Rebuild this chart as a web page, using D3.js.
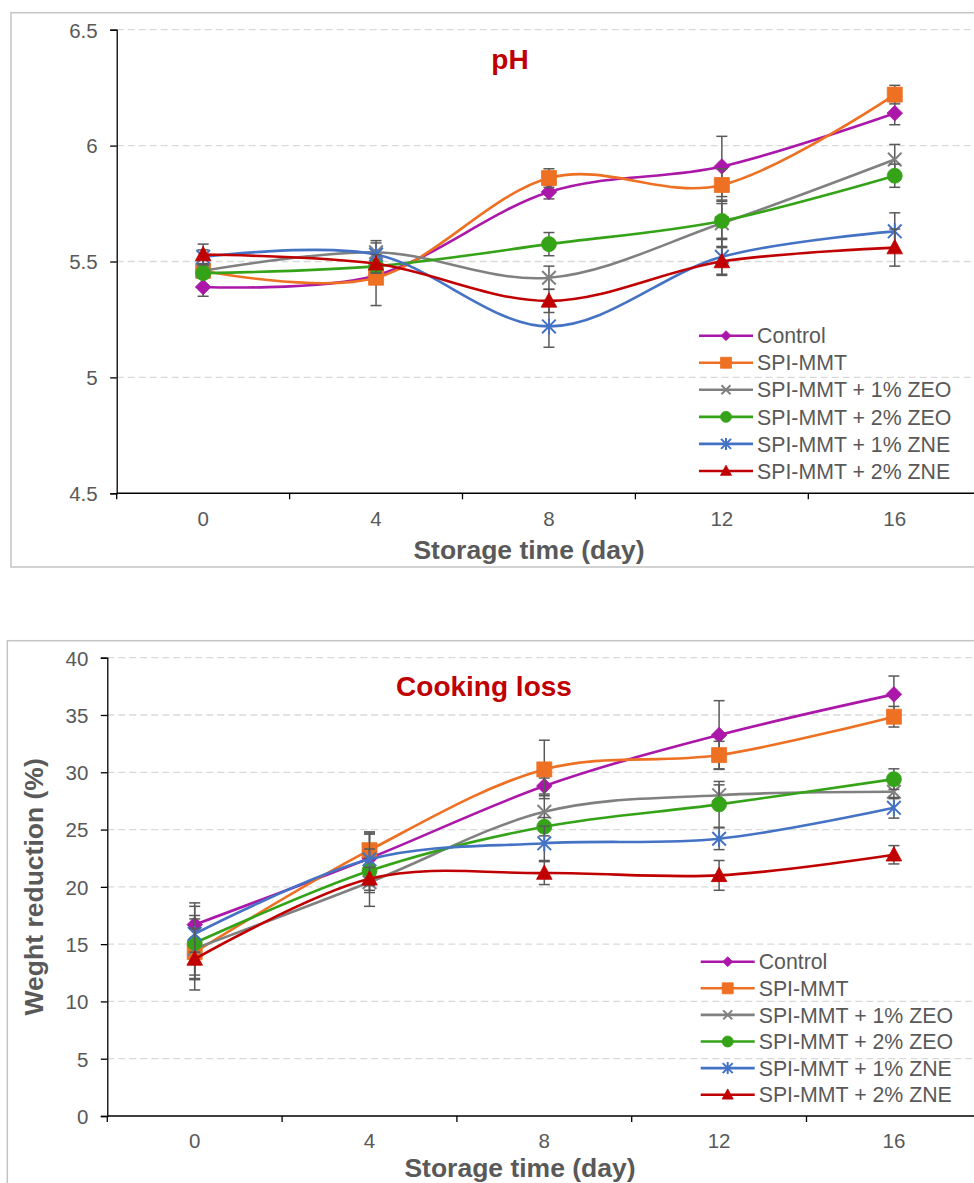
<!DOCTYPE html>
<html>
<head>
<meta charset="utf-8">
<style>
  body { margin: 0; background: #fff; }
  svg { display: block; font-family: "Liberation Sans", Arial, sans-serif; }
  .tick-label { fill: #595959; font-size: 20.5px; }
  .axis-title { fill: #595959; font-size: 26.5px; font-weight: bold; }
  .chart-title { fill: #C00000; font-size: 28px; font-weight: bold; }
  .legend-text { fill: #595959; font-size: 21.3px; }
</style>
</head>
<body>
<svg width="974" height="1183"></svg>
<script src="https://d3js.org/d3.v7.min.js"></script>
<script>
// ---- data ----
const days = ["0", "4", "8", "12", "16"];
const seriesNames = ["Control", "SPI-MMT", "SPI-MMT + 1% ZEO", "SPI-MMT + 2% ZEO", "SPI-MMT + 1% ZNE", "SPI-MMT + 2% ZNE"];

// pH
const phTicks = [4.5, 5, 5.5, 6, 6.5];
const phMeans = [
  [5.39, 5.44, 5.80, 5.91, 6.14],
  [5.46, 5.43, 5.86, 5.83, 6.22],
  [5.46, 5.54, 5.43, 5.665, 5.94],
  [5.45, 5.48, 5.575, 5.675, 5.87],
  [5.52, 5.53, 5.22, 5.52, 5.63],
  [5.53, 5.49, 5.33, 5.50, 5.56]
];
const phErrors = [
  [0.04, 0.03, 0.03, 0.13, 0.05],
  [0.03, 0.12, 0.04, 0.07, 0.04],
  [0.03, 0.05, 0.05, 0.10, 0.065],
  [0.02, 0.03, 0.05, 0.075, 0.05],
  [0.03, 0.05, 0.09, 0.075, 0.08],
  [0.045, 0.04, 0.05, 0.06, 0.08]
];

// cooking loss (weight reduction %)
const lossTicks = [0, 5, 10, 15, 20, 25, 30, 35, 40];
const lossMeans = [
  [16.7, 22.5, 28.8, 33.25, 36.8],
  [14.3, 23.2, 30.25, 31.5, 34.85],
  [14.6, 20.4, 26.55, 28.0, 28.3],
  [15.1, 21.4, 25.25, 27.2, 29.4],
  [15.9, 22.4, 23.8, 24.2, 26.9],
  [13.7, 20.7, 21.2, 21.0, 22.8]
];
const lossErrors = [
  [1.9, 2.1, 0.7, 3.0, 1.6],
  [2.0, 1.6, 2.55, 1.2, 0.9],
  [2.6, 2.1, 1.4, 0.9, 0.6],
  [3.2, 1.9, 0.8, 2.0, 0.9],
  [1.6, 2.3, 1.5, 0.95, 0.9],
  [2.7, 1.0, 1.0, 1.3, 0.8]
];

// ---- styles ----
const colors = ["#AB17A8", "#EE7022", "#808080", "#35A318", "#4472C4", "#C00000"];
const markers = ["diamond", "square", "x", "circle", "star", "triangle"];

let svg = d3.select("svg");

function markerPath(type, s) {
  if (type == "diamond") return `M0,${-s}L${s},0L0,${s}L${-s},0Z`;
  if (type == "square") return `M${-s},${-s}H${s}V${s}H${-s}Z`;
  if (type == "circle") return d3.symbol(d3.symbolCircle, Math.PI * s * s)();
  if (type == "triangle") return `M0,${-s * 1.05}L${s},${s * 0.8}L${-s},${s * 0.8}Z`;
  if (type == "x") return `M${-s},${-s}L${s},${s}M${-s},${s}L${s},${-s}`;
  // star = x with a vertical stroke
  return `M${-s},${-s}L${s},${s}M${-s},${s}L${s},${-s}M0,${-s * 1.2}V${s * 1.2}`;
}
const markerSize = { diamond: 7.8, square: 7.5, circle: 7.5, triangle: 7.8, x: 6.8, star: 6.8 };
const legendSize = { diamond: 5, square: 5.5, circle: 5.5, triangle: 5.5, x: 4.5, star: 5 };

function drawMarker(g, type, color, s) {
  let stroked = (type == "x" || type == "star");
  g.append("path")
    .attr("d", markerPath(type, s))
    .attr("fill", stroked ? "none" : color)
    .attr("stroke", color)
    .attr("stroke-width", stroked ? 2 : 0.8);
}

function drawChart(cfg) {
  let g = svg.append("g");

  // outer frame
  g.append("rect")
    .attr("x", cfg.frame[0]).attr("y", cfg.frame[1])
    .attr("width", 1000).attr("height", cfg.frame[2])
    .attr("fill", "none").attr("stroke", "#C4C4C4").attr("stroke-width", 1.5);

  let x = d3.scaleBand().domain(days).range([cfg.left, cfg.right]);
  let y = d3.scaleLinear().domain(cfg.domain).range([cfg.bottom, cfg.top]);

  // gridlines
  g.append("g").selectAll("line")
    .data(cfg.ticks.filter(t => t != cfg.domain[0]))
    .join("line")
    .attr("x1", cfg.left).attr("x2", cfg.right)
    .attr("y1", d => y(d)).attr("y2", d => y(d))
    .attr("stroke", "#D9D9D9").attr("stroke-width", 1.3)
    .attr("stroke-dasharray", "7,4");

  // y axis
  let yAxis = g.append("g")
    .attr("transform", `translate(${cfg.left},0)`)
    .call(d3.axisLeft(y).tickValues(cfg.ticks).tickSize(6.5).tickPadding(12).tickFormat(d => String(d)));
  yAxis.select(".domain").attr("stroke", "#000").attr("stroke-width", 1.3);
  yAxis.selectAll(".tick line").attr("stroke", "#000").attr("stroke-width", 1.3);
  yAxis.selectAll(".tick text").attr("class", "tick-label").attr("font-family", null).attr("font-size", null)
    .attr("dy", "0.36em").attr("x", -19);

  // x axis: ticks between categories, labels centred on categories
  let xg = g.append("g").attr("transform", `translate(0,${cfg.bottom})`);
  xg.append("line").attr("x1", cfg.left).attr("x2", cfg.right)
    .attr("stroke", "#000").attr("stroke-width", 1.5);
  xg.selectAll(".bt").data(d3.range(days.length + 1))
    .join("line")
    .attr("x1", i => cfg.left + i * x.step()).attr("x2", i => cfg.left + i * x.step())
    .attr("y1", 0).attr("y2", 6)
    .attr("stroke", "#000").attr("stroke-width", 1.3);
  xg.selectAll("text").data(days)
    .join("text")
    .attr("class", "tick-label")
    .attr("text-anchor", "middle")
    .attr("x", d => x(d) + x.bandwidth() / 2)
    .attr("y", cfg.tickBase - cfg.bottom)
    .text(d => d);

  // axis titles
  g.append("text").attr("class", "axis-title").attr("text-anchor", "middle")
    .attr("x", cfg.xTitle[0]).attr("y", cfg.xTitle[1]).text("Storage time (day)");
  if (cfg.yTitle) {
    g.append("text").attr("class", "axis-title").attr("text-anchor", "middle")
      .attr("transform", `translate(${cfg.yTitle[0]},${(cfg.top + cfg.bottom) / 2}) rotate(-90)`)
      .text(cfg.yTitle[1]);
  }

  // chart title
  g.append("text").attr("class", "chart-title").attr("text-anchor", "middle")
    .attr("x", cfg.title[0]).attr("y", cfg.title[1]).text(cfg.title[2]);

  let cx = d => x(d) + x.bandwidth() / 2;
  let line = d3.line().curve(d3.curveCatmullRom.alpha(0))
    .x((v, i) => cx(days[i])).y(v => y(v));

  // series: line, error bars, markers (later series on top)
  cfg.means.forEach((vals, si) => {
    let sg = g.append("g");
    sg.append("path").attr("d", line(vals))
      .attr("fill", "none").attr("stroke", colors[si]).attr("stroke-width", 2.6);

    let eg = sg.append("g").attr("stroke", "#595959").attr("stroke-width", 1.5);
    vals.forEach((v, i) => {
      let e = cfg.errors[si][i];
      let px = cx(days[i]);
      eg.append("line").attr("x1", px).attr("x2", px).attr("y1", y(v - e)).attr("y2", y(v + e));
      [v - e, v + e].forEach(w => {
        eg.append("line").attr("x1", px - 5.5).attr("x2", px + 5.5).attr("y1", y(w)).attr("y2", y(w));
      });
    });

    vals.forEach((v, i) => {
      let mg = sg.append("g").attr("transform", `translate(${cx(days[i])},${y(v)})`);
      drawMarker(mg, markers[si], colors[si], markerSize[markers[si]]);
    });
  });

  // legend
  let lg = g.append("g");
  seriesNames.forEach((name, si) => {
    let ly = cfg.legend[1] + si * cfg.legend[2];
    lg.append("line").attr("x1", cfg.legend[0]).attr("x2", cfg.legend[0] + 54)
      .attr("y1", ly).attr("y2", ly)
      .attr("stroke", colors[si]).attr("stroke-width", 2.6);
    let mg = lg.append("g").attr("transform", `translate(${cfg.legend[0] + 27},${ly})`);
    drawMarker(mg, markers[si], colors[si], legendSize[markers[si]]);
    lg.append("text").attr("class", "legend-text")
      .attr("x", cfg.legend[0] + 58).attr("y", ly).attr("dy", "0.36em")
      .text(name);
  });
}

drawChart({
  frame: [11, 12.7, 554.3],
  left: 116.7, right: 981.2, top: 29.7, bottom: 493.3,
  domain: [4.5, 6.5], ticks: phTicks,
  means: phMeans, errors: phErrors,
  tickBase: 526.5,
  xTitle: [529, 558.5],
  title: [510, 68.5, "pH"],
  legend: [699, 335.7, 27.05]
});

drawChart({
  frame: [7.3, 640.7, 700],
  left: 107.3, right: 981.3, top: 657.7, bottom: 1116,
  domain: [0, 40], ticks: lossTicks,
  means: lossMeans, errors: lossErrors,
  tickBase: 1148.3,
  xTitle: [520, 1177],
  yTitle: [43, "Weght reduction (%)"],
  title: [484, 696, "Cooking loss"],
  legend: [700.7, 961.7, 26.6]
});
</script>
</body>
</html>
